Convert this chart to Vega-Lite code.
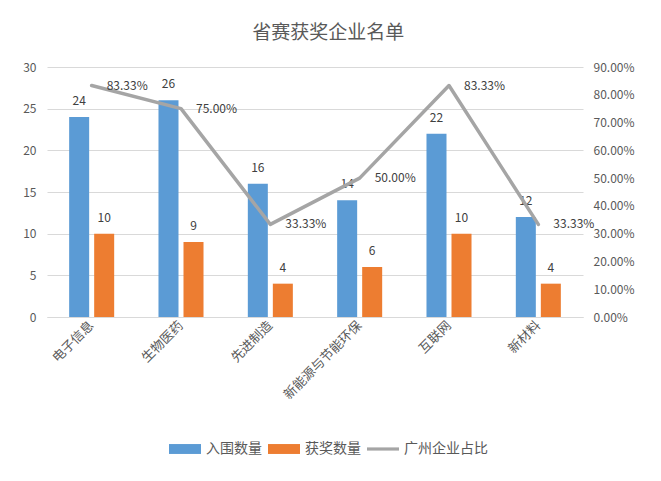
{
  "$schema": "https://vega.github.io/schema/vega-lite/v6.json",
  "width": 536,
  "height": 250,
  "autosize": {"type": "none"},
  "padding": {"left": 47, "top": 67, "right": 78, "bottom": 164},
  "title": {"text": "省赛获奖企业名单", "fontSize": 19, "fontWeight": "normal", "color": "#595959", "offset": 18, "anchor": "middle", "frame": "bounds"},
  "config": {"font": "Noto Sans CJK SC", "view": {"stroke": null}},
  "datasets": {
    "bars": [
      {"cat": "电子信息", "series": "入围数量", "value": 24},
      {"cat": "电子信息", "series": "获奖数量", "value": 10},
      {"cat": "生物医药", "series": "入围数量", "value": 26},
      {"cat": "生物医药", "series": "获奖数量", "value": 9},
      {"cat": "先进制造", "series": "入围数量", "value": 16},
      {"cat": "先进制造", "series": "获奖数量", "value": 4},
      {"cat": "新能源与节能环保", "series": "入围数量", "value": 14},
      {"cat": "新能源与节能环保", "series": "获奖数量", "value": 6},
      {"cat": "互联网", "series": "入围数量", "value": 22},
      {"cat": "互联网", "series": "获奖数量", "value": 10},
      {"cat": "新材料", "series": "入围数量", "value": 12},
      {"cat": "新材料", "series": "获奖数量", "value": 4}
    ],
    "ratio": [
      {"cat": "电子信息", "ratio": 0.8333},
      {"cat": "生物医药", "ratio": 0.75},
      {"cat": "先进制造", "ratio": 0.3333},
      {"cat": "新能源与节能环保", "ratio": 0.5},
      {"cat": "互联网", "ratio": 0.8333},
      {"cat": "新材料", "ratio": 0.3333}
    ]
  },
  "encoding": {
    "x": {
      "field": "cat",
      "type": "nominal",
      "sort": ["电子信息", "生物医药", "先进制造", "新能源与节能环保", "互联网", "新材料"],
      "scale": {"paddingInner": 0.496, "paddingOuter": 0.248},
      "axis": {
        "title": null,
        "labelAngle": -45,
        "labelAlign": "right",
        "labelBaseline": "middle",
        "labelFontSize": 13,
        "labelColor": "#595959",
        "labelPadding": 6,
        "ticks": false,
        "domainColor": "#D9D9D9",
        "grid": false
      }
    }
  },
  "layer": [
    {
      "data": {"name": "bars"},
      "encoding": {
        "xOffset": {"field": "series", "type": "nominal", "sort": ["入围数量", "获奖数量"], "scale": {"paddingInner": 0.2, "paddingOuter": 0}},
        "y": {
          "field": "value",
          "type": "quantitative",
          "scale": {"domain": [0, 30], "nice": false},
          "axis": {
            "orient": "left",
            "title": null,
            "values": [0, 5, 10, 15, 20, 25, 30],
            "domain": false,
            "ticks": false,
            "labelPadding": 11,
            "labelFontSize": 12,
            "labelColor": "#595959",
            "gridColor": "#D9D9D9",
            "grid": true
          }
        }
      },
      "layer": [
        {
          "mark": {"type": "bar"},
          "encoding": {
            "color": {
              "field": "series",
              "type": "nominal",
              "scale": {"domain": ["入围数量", "获奖数量", "广州企业占比"], "range": ["#5B9BD5", "#ED7D31", "#A5A5A5"]},
              "legend": {
                "title": null,
                "orient": "none",
                "direction": "horizontal",
                "legendX": 122,
                "legendY": 366,
                "symbolType": "square",
                "symbolSize": 1024,
                "labelFontSize": 14,
                "labelColor": "#595959",
                "labelOffset": 5,
                "columnPadding": 6,
                "encode": {
                  "symbols": {
                    "update": {
                      "shape": {"signal": "datum.value === '广州企业占比' ? 'M-1,-0.1H1V0.1H-1Z' : 'M-1,-0.31H1V0.31H-1Z'"},
                      "strokeWidth": {"value": 0}
                    }
                  }
                }
              }
            }
          }
        },
        {
          "mark": {"type": "text", "baseline": "middle", "dy": -16, "fontSize": 12, "color": "#404040"},
          "encoding": {"text": {"field": "value", "type": "quantitative"}}
        }
      ]
    },
    {
      "data": {"name": "ratio"},
      "encoding": {
        "y": {
          "field": "ratio",
          "type": "quantitative",
          "scale": {"domain": [0, 0.9], "nice": false},
          "axis": {
            "orient": "right",
            "title": null,
            "values": [0, 0.1, 0.2, 0.3, 0.4, 0.5, 0.6, 0.7, 0.8, 0.9],
            "format": ".2%",
            "domain": false,
            "ticks": false,
            "grid": false,
            "labelPadding": 10,
            "labelFontSize": 12,
            "labelColor": "#595959"
          }
        }
      },
      "layer": [
        {
          "mark": {"type": "line", "strokeWidth": 3.5, "strokeJoin": "round", "strokeCap": "round"},
          "encoding": {"color": {"datum": "广州企业占比", "type": "nominal"}}
        },
        {
          "mark": {"type": "text", "align": "left", "baseline": "middle", "dx": 15, "fontSize": 12, "color": "#404040"},
          "encoding": {"text": {"field": "ratio", "type": "quantitative", "format": ".2%"}}
        }
      ]
    }
  ],
  "resolve": {"scale": {"y": "independent"}}
}
